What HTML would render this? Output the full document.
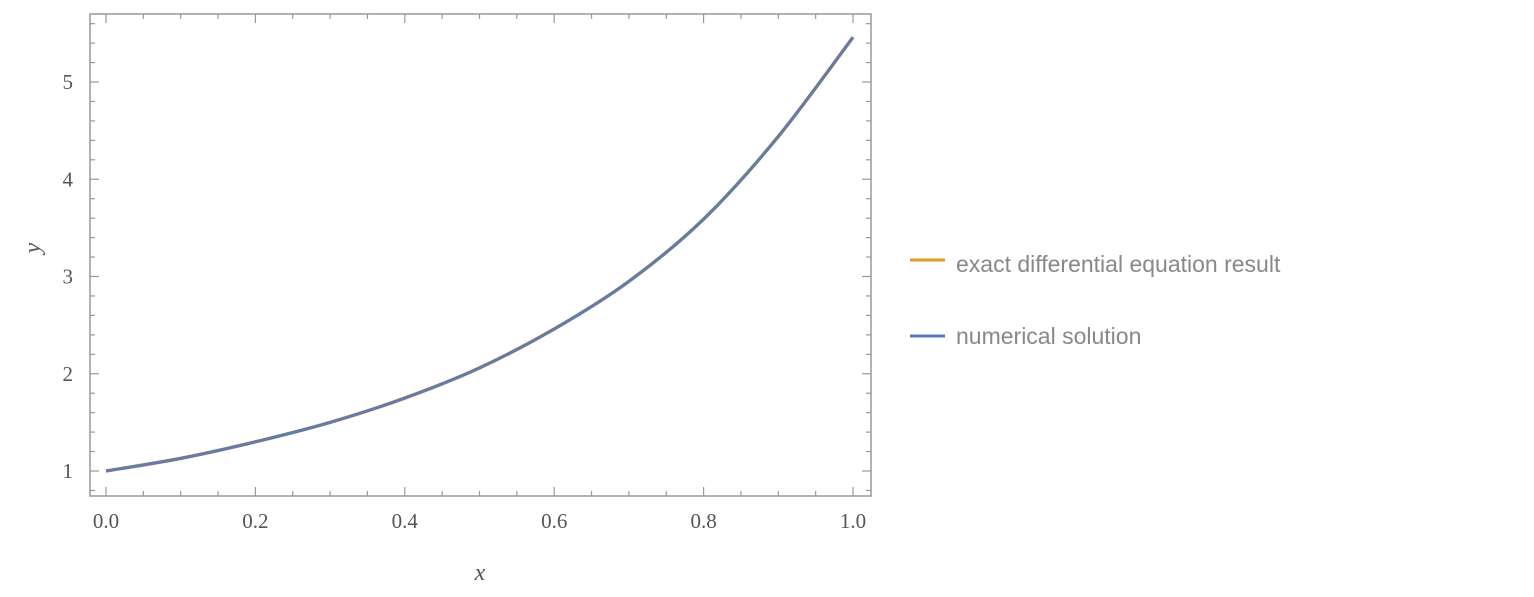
<!DOCTYPE html>
<html><head><meta charset="utf-8">
<style>
body{margin:0;background:#fff;width:1534px;height:597px;overflow:hidden;}
svg{display:block}
.tick{font-family:"Liberation Serif",serif;font-size:21px;fill:#555}
.leg{font-family:"Liberation Sans",sans-serif;font-size:23px;fill:#888}
</style></head>
<body>
<svg id="chart" width="1534" height="597">
<rect x="90" y="14" width="781" height="482" fill="none" stroke="#999" stroke-width="1.5"/>
<g id="axes"></g>
<g id="series"></g>
<text x="480" y="580" class="tick" style="font-style:italic;font-size:24px" text-anchor="middle">x</text>
<text transform="translate(40,248) rotate(-90)" class="tick" style="font-style:italic;font-size:24px" text-anchor="middle">y</text>
<g>
<line x1="910" y1="260" x2="945" y2="260" stroke="#e19c24" stroke-width="3"/>
<text x="956" y="272" class="leg">exact differential equation result</text>
<line x1="910" y1="336" x2="945" y2="336" stroke="#5a7ab5" stroke-width="3"/>
<text x="956" y="344" class="leg">numerical solution</text>
</g>
</svg>
<script>
const xValues=[0,0.1,0.2,0.3,0.4,0.5,0.6,0.7,0.8,0.9,1.0];
const exactY=[1,1.13,1.30,1.50,1.75,2.06,2.46,2.95,3.59,4.44,5.46];
const numericalY=[1,1.13,1.30,1.50,1.75,2.06,2.46,2.95,3.59,4.44,5.46];
const xTicks=["0.0","0.2","0.4","0.6","0.8","1.0"];
const yTicks=["1","2","3","4","5"];
const NS="http://www.w3.org/2000/svg";
function sx(v){return 106+v*747;}
function sy(v){return 471-(v-1)*97.25;}
const axes=document.getElementById('axes');
function mk(t,a,p){const e=document.createElementNS(NS,t);for(const k in a)e.setAttribute(k,a[k]);(p||axes).appendChild(e);return e;}
for(let i=0;i<=20;i++){const v=i*0.05,X=sx(v),major=i%4===0,len=major?9:5;
 mk('line',{x1:X,y1:496,x2:X,y2:496-len,stroke:'#999','stroke-width':1.2});
 mk('line',{x1:X,y1:14,x2:X,y2:14+len,stroke:'#999','stroke-width':1.2});}
xTicks.forEach(t=>{const e=mk('text',{x:sx(parseFloat(t)),y:528,'text-anchor':'middle',class:'tick'});e.textContent=t;

});
for(let i=0;i<=25;i++){const v=0.8+i*0.2,Y=sy(v);if(Y<14||Y>496)continue;const major=Math.abs(v-Math.round(v))<1e-6,len=major?9:5;
 mk('line',{x1:90,y1:Y,x2:90+len,y2:Y,stroke:'#999','stroke-width':1.2});
 mk('line',{x1:871,y1:Y,x2:871-len,y2:Y,stroke:'#999','stroke-width':1.2});}
yTicks.forEach(t=>{const e=mk('text',{x:73,y:sy(+t)+7,'text-anchor':'end',class:'tick'});e.textContent=t;

});
function pathFor(ys){const p=xValues.map((x,i)=>[sx(x),sy(ys[i])]);let d='M'+p[0][0]+','+p[0][1];
for(let i=0;i<p.length-1;i++){const p0=p[i-1]||p[i],p1=p[i],p2=p[i+1],p3=p[i+2]||p2;
d+=' C'+(p1[0]+(p2[0]-p0[0])/6)+','+(p1[1]+(p2[1]-p0[1])/6)+' '+(p2[0]-(p3[0]-p1[0])/6)+','+(p2[1]-(p3[1]-p1[1])/6)+' '+p2[0]+','+p2[1];}return d;}
const s=document.getElementById('series');
const e1=mk('path',{d:pathFor(exactY),fill:'none',stroke:'#e19c24','stroke-width':3.5},s);


const e2=mk('path',{d:pathFor(numericalY),fill:'none',stroke:'#5a7ab5','stroke-width':3},s);


const e3=mk('path',{d:pathFor(numericalY),fill:'none',stroke:'#888','stroke-width':1,opacity:0.35},s);


</script>
</body></html>
